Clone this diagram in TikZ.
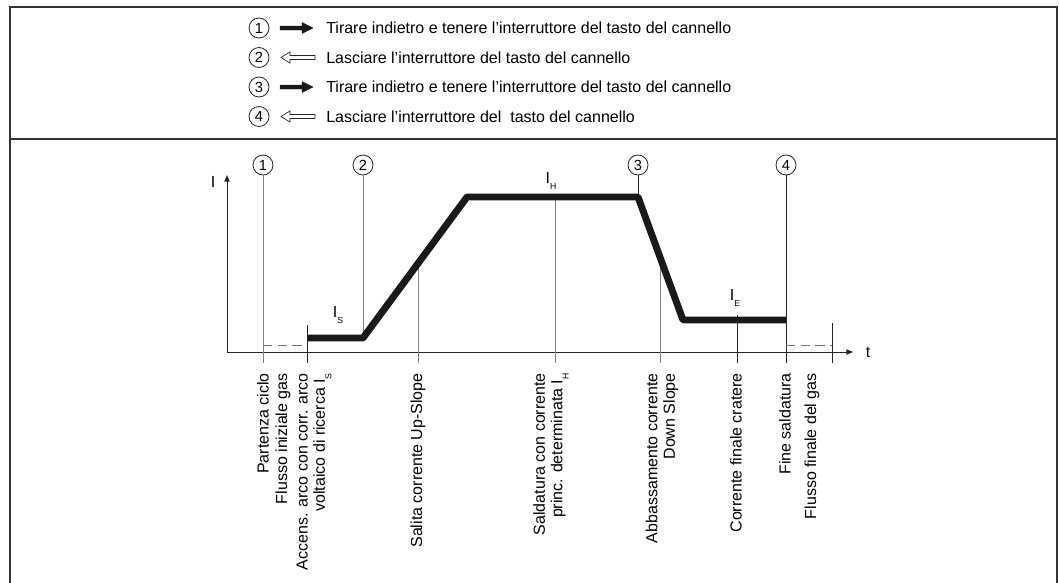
\documentclass[tikz,border=0pt]{standalone}
\usepackage{fontspec}
\setmainfont{Liberation Sans}
\usetikzlibrary{arrows.meta}
\newcommand\mysub[1]{\raisebox{-0.4em}{\fontsize{6.5}{7}\selectfont #1}}
\begin{document}
\begin{tikzpicture}[x=0.75pt,y=-0.75pt,
  frameline/.style={draw=black!80, line width=1.3pt},
  num/.style={circle, draw=black!85, line width=0.6pt, minimum size=15pt, inner sep=0pt, font=\fontsize{11}{12}\selectfont},
  leg/.style={anchor=west, inner sep=0pt, font=\fontsize{12}{14}\selectfont},
  lbl/.style={rotate=90, anchor=east, inner sep=0pt, align=right, font=\fontsize{12}{13}\selectfont},
  txt/.style={inner sep=0pt, font=\fontsize{12}{14}\selectfont},
  gline/.style={draw=black!50, line width=0.75pt},
  dline/.style={draw=black!85, line width=0.75pt},
  gasline/.style={draw=black!55, line width=0.75pt, dash pattern=on 7pt off 4pt},
  axis/.style={draw=black!85, line width=0.75pt, -{Triangle[length=5pt,width=4pt]}},
  curr/.style={draw=black!90, line width=5.2pt, line join=bevel},
  fullarrow/.style={fill=black!90, draw=black!90, line width=0.3pt},
  openarrow/.style={fill=white, draw=black!85, line width=0.5pt}
]
\useasboundingbox (0,0) rectangle (1059,582);

% frame
\draw[frameline] (10,590) -- (10,7) -- (1057,7) -- (1057,590);
\draw[frameline] (10,139) -- (1057,139);

% legend
\foreach \n/\c in {1/28,2/57.5,3/87,4/116.5}{
  \node[num] (l\n) at (259,\c) {\n};
}
\foreach \c in {28,87}{
  \draw[fullarrow] (280,\c-2) -- (302,\c-2) -- (302,\c-5.5) -- (313,\c) -- (302,\c+5.5) -- (302,\c+2) -- (280,\c+2) -- cycle;
}
\foreach \c in {57.5,116.5}{
  \draw[openarrow] (281,\c) -- (290,\c-5.5) -- (290,\c-2) -- (315,\c-2) -- (315,\c+2) -- (290,\c+2) -- (290,\c+5.5) -- cycle;
}
\node[leg] (t1) at (326,28) {Tirare indietro e tenere l'interruttore del tasto del cannello};
\node[leg] (t2) at (326,57.5) {Lasciare l'interruttore del tasto del cannello};
\node[leg] (t3) at (326,87) {Tirare indietro e tenere l'interruttore del tasto del cannello};
\node[leg] (t4) at (326,116.5) {Lasciare l'interruttore del\ \ tasto del cannello};

% circles in diagram
\node[num] (c1) at (263,165) {1};
\node[num] (c2) at (363,165) {2};
\node[num] (c3) at (638,165) {3};
\node[num] (c4) at (786,165) {4};

% axes
\coordinate (O) at (227,352);
\coordinate (ytop) at (227,175);
\coordinate (xend) at (853,352);
\draw[axis] (O) -- (ytop);
\draw[axis] (O) -- (xend);
\node[txt] (Ilab) at (213,182) {I};
\node[txt] (tlab) at (868,352) {t};

% vertical lines
\draw[gline] (c1.south) -- (263,363);
\draw[gline] (c2.south) -- (363,338);
\draw[dline] (c3.south) -- (638,197);
\draw[dline] (c4.south) -- (786,363);
\draw[dline] (307,325) -- (307,363);
\draw[gline] (418,263) -- (418,363);
\draw[gline] (555,197) -- (555,363);
\draw[gline] (660,260) -- (660,363);
\draw[dline] (737,315) -- (737,363);
\draw[dline] (832,323) -- (832,363);

% gas flow dashed
\draw[gasline] (263,345) -- (307,345);
\draw[gasline] (786,345) -- (832,345);

% current curve
\draw[curr] (307,338) -- (363,338) -- (467,197) -- (638,197) -- (683,320) -- (786,320);

% current labels
\node[txt] (IS) at (338,315) {I\mysub{S}};
\node[txt] (IH) at (551,181) {I\mysub{H}};
\node[txt] (IE) at (735,298) {I\mysub{E}};

% rotated labels
\node[lbl] (r1) at (263,373) {Partenza ciclo};
\node[lbl] (r2) at (283,373) {Flusso iniziale gas};
\node[lbl] (r3) at (314,373) {Accens. arco con corr. arco\\voltaico di ricerca I\mysub{S}};
\node[lbl] (r4) at (418,373) {Salita corrente Up-Slope};
\node[lbl] (r5) at (551,373) {Saldatura con corrente\\princ. determinata I\mysub{H}};
\node[lbl] (r6) at (662,373) {Abbassamento corrente\\Down Slope};
\node[lbl] (r7) at (736,373) {Corrente finale cratere};
\node[lbl] (r8) at (785,373) {Fine saldatura};
\node[lbl] (r9) at (812,373) {Flusso finale del gas};
\end{tikzpicture}
\end{document}
